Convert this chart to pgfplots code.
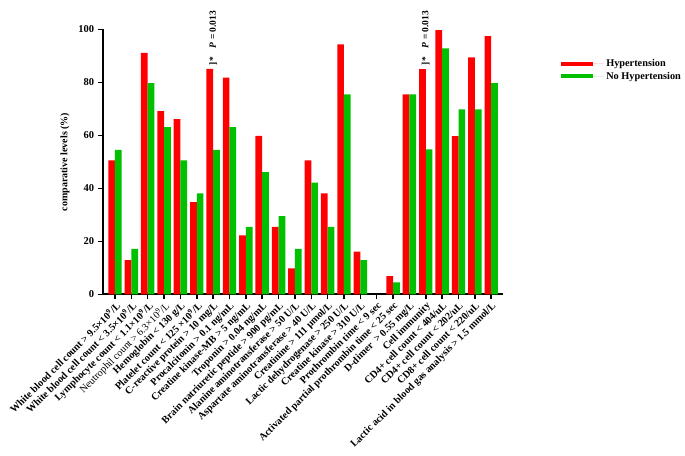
\documentclass[border=0pt]{standalone}
\usepackage{fontspec}
\setmainfont{Liberation Serif}
\usepackage{pgfplots}
\pgfplotsset{compat=1.18}
\definecolor{hred}{RGB}{255,0,0}
\definecolor{hgreen}{RGB}{0,192,0}
\begin{document}
\begin{tikzpicture}
\useasboundingbox (0,0) rectangle (685pt,455pt);
\begin{axis}[
  at={(102.7pt,160.5pt)}, anchor=south west,
  scale only axis, width=400.3pt, height=265pt,
  xmin=-0.75, xmax=23.72, ymin=0, ymax=100,
  axis lines=left, axis line style={-, line width=2pt, black},
  ytick={0,20,...,100}, xtick={0,...,23},
  tick align=outside, major tick length=5pt,
  tick style={black, line width=1.5pt},
  /pgf/number format/assume math mode=true,
  yticklabel style={font=\fontsize{10.5}{12}\selectfont\bfseries},
  xticklabel style={rotate=45, anchor=north east, font=\fontsize{10.2}{11}\selectfont\bfseries, inner sep=1pt},
  xticklabels={
    White blood cell count > 9.5×10\textsuperscript{9}/L,
    White blood cell count < 3.5×10\textsuperscript{9}/L,
    Lymphocyte count < 1.1×10\textsuperscript{9}/L,
    {\mdseries Neutrophil count > 6.3×10\textsuperscript{9}/L},
    Hemoglobin < 130 g/L,
    Platelet count < 125 ×10\textsuperscript{9}/L,
    C-reactive protein > 10 mg/L,
    Procalcitonin > 0.1 ng/mL,
    Creatine kinase-MB > 5 ng/mL,
    Troponin > 0.04 ng/mL,
    Brain natriuretic peptide > 900 pg/mL,
    Alanine aminotransferase > 50 U/L,
    Aspartate aminotransferase > 40 U/L,
    Creatinine > 111 μmol/L,
    Lactic dehydrogenase > 250 U/L,
    Creatine kinase > 310 U/L,
    Prothrombin time < 9 sec,
    Activated partial prothrombin time < 25 sec,
    D-dimer \ > 0.55 mg/L,
    Cell immunity,
    CD4+ cell count < 404/uL,
    CD4+ cell count < 202/uL,
    CD8+ cell count < 220/uL,
    Lactic acid in blood gas analysis > 1.5 mmol/L},
  ylabel={comparative levels (\%)},
  ylabel style={at={(axis description cs:-0.094,0.5)}, anchor=center, font=\fontsize{10}{12}\selectfont\bfseries},
  ybar=0pt, bar width=0.41,
  clip=false,
  legend style={at={(axis description cs:1.145,0.896)}, anchor=north west, draw=none, fill=none,
    inner xsep=0pt, inner ysep=0pt, font=\fontsize{10.3}{12}\selectfont\bfseries, row sep=0pt},
  legend cell align=left,
]
\addplot[fill=hred, draw=none,
  legend image code/.code={\fill[hred] (0pt,-2pt) rectangle (32pt,2pt); \path (0pt,0pt) -- (43pt,0pt);}]
  coordinates {
  (0,50.6) (1,13.0) (2,91.2) (3,69.2) (4,66.2) (5,34.9) (6,85.1) (7,81.8)
  (8,22.3) (9,59.9) (10,25.5) (11,9.9) (12,50.6) (13,38.2) (14,94.4) (15,16.2)
  (17,6.9) (18,75.5) (19,85.0) (20,99.8) (21,59.8) (22,89.5) (23,97.5)};
\addlegendentry{Hypertension}
\addplot[fill=hgreen, draw=none,
  legend image code/.code={\fill[hgreen] (0pt,-2pt) rectangle (32pt,2pt); \path (0pt,0pt) -- (43pt,0pt);}]
  coordinates {
  (0,54.6) (1,17.2) (2,79.8) (3,63.2) (4,50.6) (5,38.2) (6,54.6) (7,63.2)
  (8,25.5) (9,46.2) (10,29.6) (11,17.2) (12,42.2) (13,25.5) (14,75.5) (15,13.0)
  (17,4.6) (18,75.5) (19,54.8) (20,92.9) (21,69.9) (22,69.9) (23,79.8)};
\addlegendentry{No Hypertension}
\node[rotate=90, anchor=west, font=\fontsize{9.5}{10}\selectfont\bfseries, inner sep=0pt] at (axis cs:6,86.5) {]*\hspace{9pt}\textit{P} = 0.013};
\node[rotate=90, anchor=west, font=\fontsize{9.5}{10}\selectfont\bfseries, inner sep=0pt] at (axis cs:19,86.5) {]*\hspace{9pt}\textit{P} = 0.013};
\end{axis}
\end{tikzpicture}
\end{document}
